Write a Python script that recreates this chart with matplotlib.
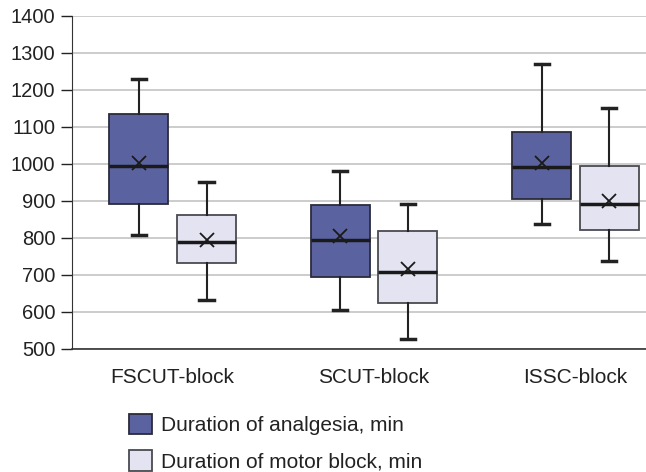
import matplotlib
matplotlib.use('Agg')
import matplotlib.pyplot as plt
from matplotlib.patches import Patch

plt.rcParams['font.family'] = ['Liberation Sans', 'DejaVu Sans']

# Datos
grupos = ['FSCUT-block', 'SCUT-block', 'ISSC-block']
series = ['Duration of analgesia, min', 'Duration of motor block, min']

# analgesia: [min, q1, mediana, q3, max, media]
analg_min = [808, 606, 838]
analg_q1 = [891, 695, 905]
analg_med = [993, 795, 992]
analg_q3 = [1134, 889, 1085]
analg_max = [1229, 980, 1268]
analg_mean = [1002, 805, 1003]

motor_min = [633, 528, 737]
motor_q1 = [732, 624, 820]
motor_med = [789, 708, 892]
motor_q3 = [862, 819, 995]
motor_max = [950, 891, 1150]
motor_mean = [795, 715, 900]

yticks = [500, 600, 700, 800, 900, 1000, 1100, 1200, 1300, 1400]

colores = ['#5b62a0', '#e3e3f1']
bordes = ['#2b2b3a', '#4a4a50']

fig = plt.figure(figsize=(6.46, 4.72), dpi=100)
ax = fig.add_axes([72 / 646, 123 / 472, (646 - 72) / 646, 333.5 / 472])


def stats(mn, q1, med, q3, mx, mean):
    return [dict(whislo=a, q1=b, med=c, q3=d, whishi=e, mean=f, fliers=[])
            for a, b, c, d, e, f in zip(mn, q1, med, q3, mx, mean)]


datos = [
    stats(analg_min, analg_q1, analg_med, analg_q3, analg_max, analg_mean),
    stats(motor_min, motor_q1, motor_med, motor_q3, motor_max, motor_mean),
]
desp = [-0.168, 0.168]

for k in range(2):
    pos = [i + desp[k] for i in range(len(grupos))]
    ax.bxp(datos[k], positions=pos, widths=0.293, patch_artist=True,
           showmeans=True, showfliers=False,
           boxprops=dict(facecolor=colores[k], edgecolor=bordes[k], linewidth=1.3),
           medianprops=dict(color='#1a1a1a', linewidth=2.5),
           whiskerprops=dict(color='#222222', linewidth=1.5),
           capprops=dict(color='#222222', linewidth=2.5),
           capwidths=0.07,
           meanprops=dict(marker='x', markeredgecolor='#1a1a1a', markersize=10,
                          markeredgewidth=1.3),
           zorder=3)

ax.set_xlim(-0.5, 2.35)
ax.set_ylim(500, 1400)
ax.set_yticks(yticks)
ax.set_xticks(range(len(grupos)))
ax.set_xticklabels(grupos)
ax.tick_params(axis='x', length=0, pad=14, labelsize=15, colors='#222222')
ax.tick_params(axis='y', length=8, width=1, pad=4, labelsize=14.5, colors='#222222')
ax.yaxis.grid(True, color='#c4c4c4', linewidth=1.2, zorder=0)
ax.set_axisbelow(True)
for s in ['top', 'right']:
    ax.spines[s].set_visible(False)
ax.spines['left'].set_color('#333333')
ax.spines['bottom'].set_color('#333333')
ax.spines['bottom'].set_linewidth(1.2)

manejadores = [Patch(facecolor=colores[k], edgecolor=bordes[k], linewidth=1.3)
               for k in range(2)]
fig.legend(manejadores, series, loc='upper left',
           bbox_to_anchor=(110 / 646, 1 - 395 / 472), frameon=False,
           fontsize=15, handlelength=1.1, handleheight=1.15,
           handletextpad=0.45, labelspacing=0.72, labelcolor='#222222')

fig.savefig('out.png', dpi=100)
